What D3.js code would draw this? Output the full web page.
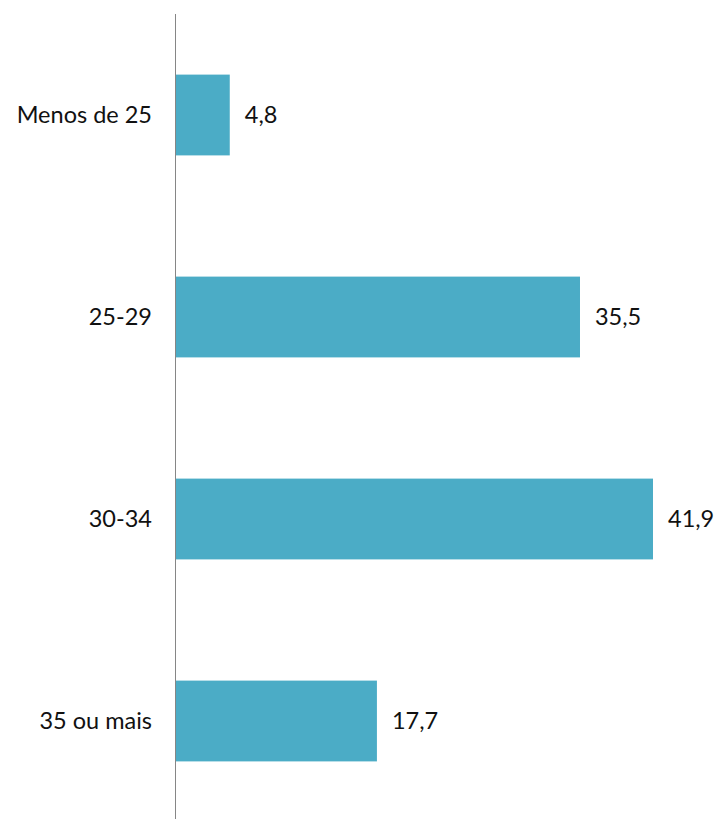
<!DOCTYPE html>
<html>
<head>
<meta charset="utf-8">
<script src="https://cdn.jsdelivr.net/npm/d3@7"></script>
<style>
  html, body { margin: 0; padding: 0; background: #fff; }
  svg { display: block; }
</style>
</head>
<body>
<svg id="chart"></svg>
<script>
// Age groups and their share (%)
const categories = ['Menos de 25', '25-29', '30-34', '35 ou mais'];
const values = [4.8, 35.5, 41.9, 17.7];
const valueLabels = ['4,8', '35,5', '41,9', '17,7'];

const W = 718, H = 819;
const axisX = 175;

const svg = d3.select('#chart')
  .attr('width', W)
  .attr('height', H);

const x = d3.scaleLinear()
  .domain([0, 41.9])
  .range([axisX, 653]);

const y = d3.scaleBand()
  .domain(categories)
  .range([14, 822])
  .paddingInner(0.6)
  .paddingOuter(0.3);

const fontFamily = 'Lato, "Open Sans", sans-serif';

// bars
svg.selectAll('.bar')
  .data(values)
  .enter().append('rect')
  .attr('class', 'bar')
  .attr('x', x(0))
  .attr('y', (d, i) => y(categories[i]))
  .attr('width', d => x(d) - x(0))
  .attr('height', y.bandwidth())
  .attr('fill', '#4bacc6');

// vertical axis line
svg.append('line')
  .attr('x1', axisX + 0.5).attr('x2', axisX + 0.5)
  .attr('y1', 14).attr('y2', H)
  .attr('stroke', '#868686')
  .attr('stroke-width', 1);

// category labels
svg.selectAll('.cat')
  .data(categories)
  .enter().append('text')
  .attr('class', 'cat')
  .attr('x', axisX - 23)
  .attr('y', d => y(d) + y.bandwidth() / 2)
  .attr('dy', '0.35em')
  .attr('text-anchor', 'end')
  .attr('font-family', fontFamily)
  .attr('font-size', 23.5)
  .attr('fill', '#111')
  .text(d => d);

// value labels
svg.selectAll('.val')
  .data(values)
  .enter().append('text')
  .attr('class', 'val')
  .attr('x', d => x(d) + 15)
  .attr('y', (d, i) => y(categories[i]) + y.bandwidth() / 2)
  .attr('dy', '0.35em')
  .attr('font-family', fontFamily)
  .attr('font-size', 23.5)
  .attr('fill', '#111')
  .text((d, i) => valueLabels[i]);
</script>
</body>
</html>
